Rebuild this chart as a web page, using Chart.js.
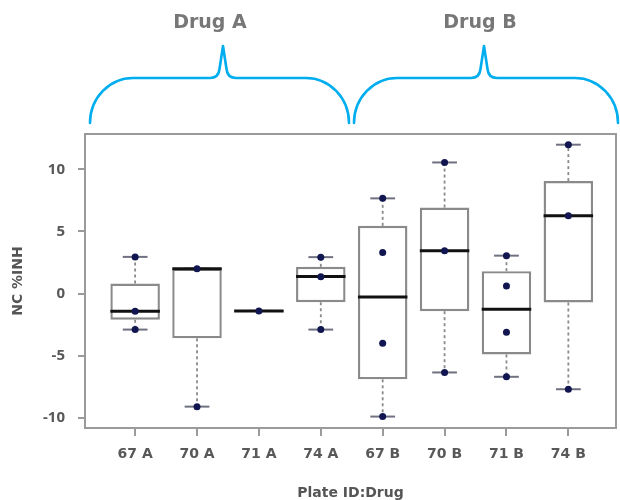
<!DOCTYPE html>
<html><head><meta charset="utf-8">
<script src="https://cdn.jsdelivr.net/npm/chart.js@4.4.1/dist/chart.umd.min.js"></script>
<style>html,body{margin:0;padding:0;background:#fff;}#wrap{width:620px;height:500px;}</style>
</head><body><div id="wrap"><canvas id="c" width="620" height="500"></canvas></div>
<script>
// ---- data ----
const categories = ['67 A','70 A','71 A','74 A','67 B','70 B','71 B','74 B'];
const groups = ['Drug A','Drug B'];
const yTicks = [-10, -5, 0, 5, 10];
const whiskerLow  = [-2.9, -9.1, -1.4, -2.9, -9.9, -6.35, -6.7, -7.7];
const q1          = [-2.1, -3.6, -1.4, -0.7, -6.9, -1.42, -4.9, -0.72];
const median      = [-1.42, 2.0, -1.4, 1.38, -0.28, 3.45, -1.27, 6.27];
const q3          = [0.8, 2.0, -1.4, 2.15, 5.45, 6.92, 1.8, 9.05];
const whiskerHigh = [2.95, 2.0, -1.4, 2.93, 7.66, 10.55, 3.05, 11.98];
const observations = [
  [2.95, -1.42, -2.9],
  [2.0, -9.1],
  [-1.4],
  [2.93, 1.35, -2.9],
  [7.66, 3.3, -4.0, -9.9],
  [10.55, 3.45, -6.35],
  [3.05, 0.6, -3.12, -6.7],
  [11.98, 6.27, -7.7]
];

// ---- build datasets ----
const boxData = categories.map((c, i) => ({ x: i + 1, y: [q1[i], q3[i]] }));
const pointData = [];
observations.forEach((arr, i) => arr.forEach(v => pointData.push({ x: i + 1, y: v })));

const GRAY = '#9a9a9a';
const TXT = '#585858';

const boxPlugin = {
  id: 'boxParts',
  beforeDatasetsDraw(chart) {
    const { ctx, chartArea: a } = chart;
    ctx.save();
    ctx.strokeStyle = GRAY;
    ctx.lineWidth = 2;
    ctx.strokeRect(a.left, a.top, a.right - a.left, a.bottom - a.top);
    ctx.restore();
  },
  afterDatasetDraw(chart, args) {
    if (args.index !== 0) return;
    const { ctx } = chart;
    const ys = chart.scales.y;
    const meta = chart.getDatasetMeta(0);
    ctx.save();
    meta.data.forEach((el, i) => {
      const cx = el.x, w = el.width;
      const yq1 = ys.getPixelForValue(q1[i]);
      const yq3 = ys.getPixelForValue(q3[i]);
      const yHi = ys.getPixelForValue(whiskerHigh[i]);
      const yLo = ys.getPixelForValue(whiskerLow[i]);
      const yMed = ys.getPixelForValue(median[i]);
      // whiskers
      ctx.setLineDash([3, 3]);
      ctx.strokeStyle = '#8a8a8a';
      ctx.lineWidth = 1.8;
      if (whiskerHigh[i] > q3[i]) { ctx.beginPath(); ctx.moveTo(cx, yq3); ctx.lineTo(cx, yHi); ctx.stroke(); }
      if (whiskerLow[i] < q1[i]) { ctx.beginPath(); ctx.moveTo(cx, yq1); ctx.lineTo(cx, yLo); ctx.stroke(); }
      ctx.setLineDash([]);
      // caps
      ctx.strokeStyle = '#6f7080';
      ctx.lineWidth = 2;
      [yHi, yLo].forEach(y => { ctx.beginPath(); ctx.moveTo(cx - w / 4, y); ctx.lineTo(cx + w / 4, y); ctx.stroke(); });
      // median
      ctx.strokeStyle = '#111';
      ctx.lineWidth = 3;
      ctx.beginPath(); ctx.moveTo(cx - w / 2, yMed); ctx.lineTo(cx + w / 2, yMed); ctx.stroke();
    });
    ctx.restore();
  },
  afterDraw(chart) {
    const { ctx } = chart;
    ctx.save();
    ctx.strokeStyle = '#00aeef';
    ctx.lineWidth = 2.6;
    ctx.lineCap = 'round';
    ctx.lineJoin = 'round';
    const brace = (x0, x1, xp) => {
      const yEnd = 123, yMid = 78, yPeak = 46, r = 43, dy = yEnd - yMid, k = 0.5523;
      ctx.beginPath();
      ctx.moveTo(x0, yEnd);
      ctx.bezierCurveTo(x0, yEnd - k * dy, x0 + r - k * r, yMid, x0 + r, yMid);
      ctx.lineTo(xp - 13, yMid);
      ctx.quadraticCurveTo(xp - 4.5, yMid, xp - 3.5, yMid - 9);
      ctx.lineTo(xp, yPeak);
      ctx.lineTo(xp + 3.5, yMid - 9);
      ctx.quadraticCurveTo(xp + 4.5, yMid, xp + 13, yMid);
      ctx.lineTo(x1 - r, yMid);
      ctx.bezierCurveTo(x1 - r + k * r, yMid, x1, yEnd - k * dy, x1, yEnd);
      ctx.stroke();
    };
    brace(90, 349, 223);
    brace(354, 618, 484);
    ctx.fillStyle = '#777777';
    ctx.font = 'bold 19px "DejaVu Sans"';
    ctx.textAlign = 'center';
    ctx.textBaseline = 'alphabetic';
    ctx.fillText(groups[0], 210, 28);
    ctx.fillText(groups[1], 480, 28);
    ctx.restore();
  }
};

new Chart(document.getElementById('c'), {
  type: 'bar',
  data: {
    datasets: [
      { type: 'bar', data: boxData, backgroundColor: '#ffffff', borderColor: '#8a8a8a', borderWidth: 2.4,
        borderSkipped: false, barPercentage: 0.8, categoryPercentage: 1, order: 2 },
      { type: 'scatter', data: pointData, pointRadius: 3.5, pointBackgroundColor: '#121650',
        pointBorderColor: '#121650', pointBorderWidth: 0, order: 1 }
    ]
  },
  options: {
    responsive: false,
    devicePixelRatio: 1,
    animation: false,
    layout: { padding: { top: 134, right: 2, left: 0, bottom: 0 } },
    plugins: { legend: { display: false }, tooltip: { enabled: false } },
    scales: {
      x: {
        type: 'linear', min: 0.19, max: 8.77, offset: false,
        afterBuildTicks: ax => { ax.ticks = categories.map((c, i) => ({ value: i + 1 })); },
        afterFit: ax => { ax.height = 72; },
        border: { display: false },
        grid: { display: true, drawOnChartArea: false, drawTicks: true, tickLength: 8, color: GRAY, lineWidth: 2, offset: false },
        ticks: { autoSkip: false, maxRotation: 0, minRotation: 0, padding: 10, color: TXT,
          font: { family: 'DejaVu Sans', weight: 'bold', size: 14 },
          callback: (v, i) => categories[i] },
        title: { display: true, text: 'Plate ID:Drug', color: '#555555', padding: { top: 0, bottom: -2 },
          font: { family: 'DejaVu Sans', weight: 'bold', size: 14 } }
      },
      y: {
        type: 'linear', min: -10.82, max: 12.84,
        afterBuildTicks: ax => { ax.ticks = yTicks.map(v => ({ value: v })); },
        afterFit: ax => { ax.width = 85; },
        border: { display: false },
        grid: { display: true, drawOnChartArea: false, drawTicks: true, tickLength: 7, color: GRAY, lineWidth: 2 },
        ticks: { padding: 13, color: TXT, font: { family: 'Open Sans', weight: 'bold', size: 15 } },
        title: { display: true, text: 'NC %INH', color: '#555555', padding: { top: 10, bottom: 0 },
          font: { family: 'DejaVu Sans', weight: 'bold', size: 14 } }
      }
    }
  },
  plugins: [boxPlugin]
});
</script>
</body></html>
